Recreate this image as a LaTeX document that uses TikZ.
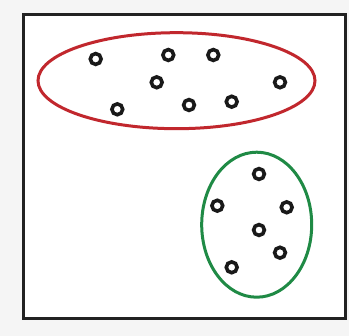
\documentclass[tikz,border=0pt]{standalone}
\usetikzlibrary{shapes.geometric}
\definecolor{bgray}{HTML}{F5F5F5}
\definecolor{framec}{HTML}{222222}
\definecolor{redc}{HTML}{C1272D}
\definecolor{greenc}{HTML}{1F8A45}
\tikzset{
  pt/.style={circle,draw=black!90,line width=3.6pt,minimum size=10.8pt,inner sep=0pt},
  clusterred/.style={ellipse,draw=redc,line width=3pt,inner sep=0pt},
  clustergreen/.style={ellipse,draw=greenc,line width=3pt,inner sep=0pt}
}
\begin{document}
\begin{tikzpicture}[x=1pt,y=-1pt]
\fill[bgray] (0,0) rectangle (349,336);
\useasboundingbox (0,0) rectangle (349,336);
\node[draw=framec,fill=white,line width=3.6pt,minimum width=322pt,minimum height=304pt,inner sep=0pt] (frame) at (184.5,166.5) {};
\node[clusterred,minimum width=277pt,minimum height=96pt] (red) at (176.5,80.7) {};
\node[clustergreen,minimum width=110pt,minimum height=145pt] (green) at (256.7,224.7) {};
\node[pt] (r1) at (95.7,59) {};
\node[pt] (r2) at (168.3,55) {};
\node[pt] (r3) at (213.3,55) {};
\node[pt] (r4) at (156.7,82.3) {};
\node[pt] (r5) at (280,82.3) {};
\node[pt] (r6) at (117.3,109.3) {};
\node[pt] (r7) at (189,105) {};
\node[pt] (r8) at (231.7,101.7) {};
\node[pt] (g1) at (259,174) {};
\node[pt] (g2) at (217.3,205.7) {};
\node[pt] (g3) at (286.7,207.3) {};
\node[pt] (g4) at (259,230) {};
\node[pt] (g5) at (280,252.7) {};
\node[pt] (g6) at (231.7,267.3) {};
\end{tikzpicture}
\end{document}
